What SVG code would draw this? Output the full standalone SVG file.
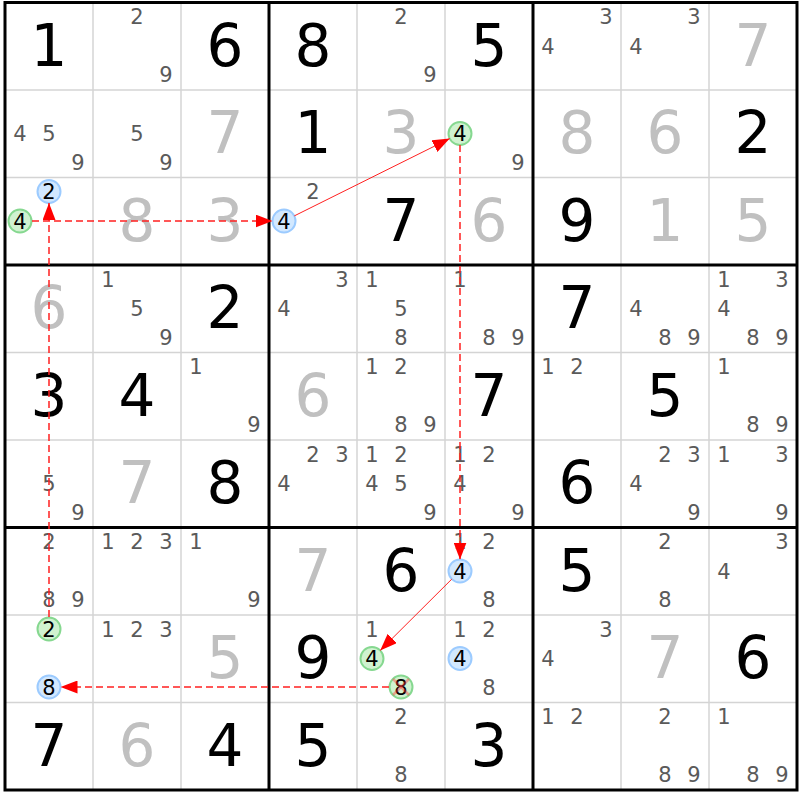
<svg xmlns="http://www.w3.org/2000/svg" width="800" height="800" viewBox="0 0 800 800">
<style>
text{font-family:"DejaVu Sans","Liberation Sans",sans-serif;text-anchor:middle}
.g{font-size:58px;fill:#000}
.s{font-size:58px;fill:#c0c0c0}
.c{font-size:21px;fill:#5a5a5a}
.k{font-size:21px;fill:#000}
.thin{stroke:#d4d4d4;stroke-width:1.5}
.thick{stroke:#000;stroke-width:3}
.bl{fill:#d2e8ff;stroke:#9ccbff;stroke-width:2}
.gr{fill:#d0f2d0;stroke:#86d890;stroke-width:2}
.dash{stroke:#ff2020;stroke-width:1.5;stroke-dasharray:7 4;fill:none}
.sol{stroke:#ff2020;stroke-width:1;fill:none}
.x{stroke:#ff3030;stroke-opacity:0.4;stroke-width:2.5}
</style>
<defs>
<marker id="ah" markerUnits="userSpaceOnUse" markerWidth="18" markerHeight="13" refX="17" refY="6.5" orient="auto">
<path d="M0,0 L17,6.5 L0,13 z" fill="#ff0000"/>
</marker>
</defs>
<rect width="800" height="800" fill="#fff"/>
<g id="grid">
<g class="thin">
<line x1="93" y1="2.5" x2="93" y2="790"/><line x1="181" y1="2.5" x2="181" y2="790"/>
<line x1="357" y1="2.5" x2="357" y2="790"/><line x1="445" y1="2.5" x2="445" y2="790"/>
<line x1="621" y1="2.5" x2="621" y2="790"/><line x1="709" y1="2.5" x2="709" y2="790"/>
<line x1="5" y1="90" x2="797" y2="90"/><line x1="5" y1="177.5" x2="797" y2="177.5"/>
<line x1="5" y1="352.5" x2="797" y2="352.5"/><line x1="5" y1="440" x2="797" y2="440"/>
<line x1="5" y1="615" x2="797" y2="615"/><line x1="5" y1="702.5" x2="797" y2="702.5"/>
</g>
<g class="thick">
<line x1="269" y1="2.5" x2="269" y2="790"/><line x1="533" y1="2.5" x2="533" y2="790"/>
<line x1="5" y1="265" x2="797" y2="265"/><line x1="5" y1="527.5" x2="797" y2="527.5"/>
<rect x="5" y="2.5" width="792" height="787.5" fill="none"/>
</g>
</g>
<g id="row0">
<g id="r0c0"><text class="g" x="49" y="65.5">1</text></g>
<g id="r0c1"><text class="c" x="137" y="24">2</text><text class="c" x="166" y="82">9</text></g>
<g id="r0c2"><text class="g" x="225" y="65.5">6</text></g>
<g id="r0c3"><text class="g" x="313" y="65.5">8</text></g>
<g id="r0c4"><text class="c" x="401" y="24">2</text><text class="c" x="430" y="82">9</text></g>
<g id="r0c5"><text class="g" x="489" y="65.5">5</text></g>
<g id="r0c6"><text class="c" x="606" y="24">3</text><text class="c" x="548" y="53.5">4</text></g>
<g id="r0c7"><text class="c" x="694" y="24">3</text><text class="c" x="636" y="53.5">4</text></g>
<g id="r0c8"><text class="s" x="753" y="65.5">7</text></g>
</g>
<g id="row1">
<g id="r1c0"><text class="c" x="20" y="141">4</text><text class="c" x="49" y="141">5</text><text class="c" x="78" y="169.5">9</text></g>
<g id="r1c1"><text class="c" x="137" y="141">5</text><text class="c" x="166" y="169.5">9</text></g>
<g id="r1c2"><text class="s" x="225" y="153">7</text></g>
<g id="r1c3"><text class="g" x="313" y="153">1</text></g>
<g id="r1c4"><text class="s" x="401" y="153">3</text></g>
<g id="r1c5"><circle class="gr" cx="460" cy="133.5" r="11.5"/><text class="k" x="460" y="141">4</text><text class="c" x="518" y="169.5">9</text></g>
<g id="r1c6"><text class="s" x="577" y="153">8</text></g>
<g id="r1c7"><text class="s" x="665" y="153">6</text></g>
<g id="r1c8"><text class="g" x="753" y="153">2</text></g>
</g>
<g id="row2">
<g id="r2c0"><circle class="bl" cx="49" cy="191.5" r="11.5"/><text class="k" x="49" y="199">2</text><circle class="gr" cx="20" cy="221" r="11.5"/><text class="k" x="20" y="228.5">4</text></g>
<g id="r2c1"><text class="s" x="137" y="240.5">8</text></g>
<g id="r2c2"><text class="s" x="225" y="240.5">3</text></g>
<g id="r2c3"><text class="c" x="313" y="199">2</text><circle class="bl" cx="284" cy="221" r="11.5"/><text class="k" x="284" y="228.5">4</text></g>
<g id="r2c4"><text class="g" x="401" y="240.5">7</text></g>
<g id="r2c5"><text class="s" x="489" y="240.5">6</text></g>
<g id="r2c6"><text class="g" x="577" y="240.5">9</text></g>
<g id="r2c7"><text class="s" x="665" y="240.5">1</text></g>
<g id="r2c8"><text class="s" x="753" y="240.5">5</text></g>
</g>
<g id="row3">
<g id="r3c0"><text class="s" x="49" y="328">6</text></g>
<g id="r3c1"><text class="c" x="108" y="286.5">1</text><text class="c" x="137" y="316">5</text><text class="c" x="166" y="344.5">9</text></g>
<g id="r3c2"><text class="g" x="225" y="328">2</text></g>
<g id="r3c3"><text class="c" x="342" y="286.5">3</text><text class="c" x="284" y="316">4</text></g>
<g id="r3c4"><text class="c" x="372" y="286.5">1</text><text class="c" x="401" y="316">5</text><text class="c" x="401" y="344.5">8</text></g>
<g id="r3c5"><text class="c" x="460" y="286.5">1</text><text class="c" x="489" y="344.5">8</text><text class="c" x="518" y="344.5">9</text></g>
<g id="r3c6"><text class="g" x="577" y="328">7</text></g>
<g id="r3c7"><text class="c" x="636" y="316">4</text><text class="c" x="665" y="344.5">8</text><text class="c" x="694" y="344.5">9</text></g>
<g id="r3c8"><text class="c" x="724" y="286.5">1</text><text class="c" x="782" y="286.5">3</text><text class="c" x="724" y="316">4</text><text class="c" x="753" y="344.5">8</text><text class="c" x="782" y="344.5">9</text></g>
</g>
<g id="row4">
<g id="r4c0"><text class="g" x="49" y="415.5">3</text></g>
<g id="r4c1"><text class="g" x="137" y="415.5">4</text></g>
<g id="r4c2"><text class="c" x="196" y="374">1</text><text class="c" x="254" y="432">9</text></g>
<g id="r4c3"><text class="s" x="313" y="415.5">6</text></g>
<g id="r4c4"><text class="c" x="372" y="374">1</text><text class="c" x="401" y="374">2</text><text class="c" x="401" y="432">8</text><text class="c" x="430" y="432">9</text></g>
<g id="r4c5"><text class="g" x="489" y="415.5">7</text></g>
<g id="r4c6"><text class="c" x="548" y="374">1</text><text class="c" x="577" y="374">2</text></g>
<g id="r4c7"><text class="g" x="665" y="415.5">5</text></g>
<g id="r4c8"><text class="c" x="724" y="374">1</text><text class="c" x="753" y="432">8</text><text class="c" x="782" y="432">9</text></g>
</g>
<g id="row5">
<g id="r5c0"><text class="c" x="49" y="491">5</text><text class="c" x="78" y="519.5">9</text></g>
<g id="r5c1"><text class="s" x="137" y="503">7</text></g>
<g id="r5c2"><text class="g" x="225" y="503">8</text></g>
<g id="r5c3"><text class="c" x="313" y="461.5">2</text><text class="c" x="342" y="461.5">3</text><text class="c" x="284" y="491">4</text></g>
<g id="r5c4"><text class="c" x="372" y="461.5">1</text><text class="c" x="401" y="461.5">2</text><text class="c" x="372" y="491">4</text><text class="c" x="401" y="491">5</text><text class="c" x="430" y="519.5">9</text></g>
<g id="r5c5"><text class="c" x="460" y="461.5">1</text><text class="c" x="489" y="461.5">2</text><text class="c" x="460" y="491">4</text><text class="c" x="518" y="519.5">9</text></g>
<g id="r5c6"><text class="g" x="577" y="503">6</text></g>
<g id="r5c7"><text class="c" x="665" y="461.5">2</text><text class="c" x="694" y="461.5">3</text><text class="c" x="636" y="491">4</text><text class="c" x="694" y="519.5">9</text></g>
<g id="r5c8"><text class="c" x="724" y="461.5">1</text><text class="c" x="782" y="461.5">3</text><text class="c" x="782" y="519.5">9</text></g>
</g>
<g id="row6">
<g id="r6c0"><text class="c" x="49" y="549">2</text><text class="c" x="49" y="607">8</text><text class="c" x="78" y="607">9</text></g>
<g id="r6c1"><text class="c" x="108" y="549">1</text><text class="c" x="137" y="549">2</text><text class="c" x="166" y="549">3</text></g>
<g id="r6c2"><text class="c" x="196" y="549">1</text><text class="c" x="254" y="607">9</text></g>
<g id="r6c3"><text class="s" x="313" y="590.5">7</text></g>
<g id="r6c4"><text class="g" x="401" y="590.5">6</text></g>
<g id="r6c5"><text class="c" x="460" y="549">1</text><text class="c" x="489" y="549">2</text><circle class="bl" cx="460" cy="571" r="11.5"/><text class="k" x="460" y="578.5">4</text><text class="c" x="489" y="607">8</text></g>
<g id="r6c6"><text class="g" x="577" y="590.5">5</text></g>
<g id="r6c7"><text class="c" x="665" y="549">2</text><text class="c" x="665" y="607">8</text></g>
<g id="r6c8"><text class="c" x="782" y="549">3</text><text class="c" x="724" y="578.5">4</text></g>
</g>
<g id="row7">
<g id="r7c0"><circle class="gr" cx="49" cy="629" r="11.5"/><text class="k" x="49" y="636.5">2</text><circle class="bl" cx="49" cy="687" r="11.5"/><text class="k" x="49" y="694.5">8</text></g>
<g id="r7c1"><text class="c" x="108" y="636.5">1</text><text class="c" x="137" y="636.5">2</text><text class="c" x="166" y="636.5">3</text></g>
<g id="r7c2"><text class="s" x="225" y="678">5</text></g>
<g id="r7c3"><text class="g" x="313" y="678">9</text></g>
<g id="r7c4"><text class="c" x="372" y="636.5">1</text><circle class="gr" cx="372" cy="658.5" r="11.5"/><text class="k" x="372" y="666">4</text><circle class="gr" cx="401" cy="687" r="11.5"/><text class="k" x="401" y="694.5">8</text><line class="x" x1="393" y1="679" x2="409" y2="695"/><line class="x" x1="409" y1="679" x2="393" y2="695"/></g>
<g id="r7c5"><text class="c" x="460" y="636.5">1</text><text class="c" x="489" y="636.5">2</text><circle class="bl" cx="460" cy="658.5" r="11.5"/><text class="k" x="460" y="666">4</text><text class="c" x="489" y="694.5">8</text></g>
<g id="r7c6"><text class="c" x="606" y="636.5">3</text><text class="c" x="548" y="666">4</text></g>
<g id="r7c7"><text class="s" x="665" y="678">7</text></g>
<g id="r7c8"><text class="g" x="753" y="678">6</text></g>
</g>
<g id="row8">
<g id="r8c0"><text class="g" x="49" y="765.5">7</text></g>
<g id="r8c1"><text class="s" x="137" y="765.5">6</text></g>
<g id="r8c2"><text class="g" x="225" y="765.5">4</text></g>
<g id="r8c3"><text class="g" x="313" y="765.5">5</text></g>
<g id="r8c4"><text class="c" x="401" y="724">2</text><text class="c" x="401" y="782">8</text></g>
<g id="r8c5"><text class="g" x="489" y="765.5">3</text></g>
<g id="r8c6"><text class="c" x="548" y="724">1</text><text class="c" x="577" y="724">2</text></g>
<g id="r8c7"><text class="c" x="665" y="724">2</text><text class="c" x="665" y="782">8</text><text class="c" x="694" y="782">9</text></g>
<g id="r8c8"><text class="c" x="724" y="724">1</text><text class="c" x="753" y="782">8</text><text class="c" x="782" y="782">9</text></g>
</g>
<g id="connectors">
<line class="dash" x1="49" y1="617" x2="49" y2="203" marker-end="url(#ah)"/>
<line class="dash" x1="32" y1="221" x2="272.5" y2="221" marker-end="url(#ah)"/>
<line class="sol" x1="294.3" y1="215.9" x2="449.7" y2="138.6" marker-end="url(#ah)"/>
<line class="dash" x1="460" y1="145" x2="460" y2="559.5" marker-end="url(#ah)"/>
<line class="sol" x1="451.8" y1="579.1" x2="380.2" y2="650.4" marker-end="url(#ah)"/>
<line class="dash" x1="389" y1="687" x2="60.5" y2="687" marker-end="url(#ah)"/>
</g>
</svg>
